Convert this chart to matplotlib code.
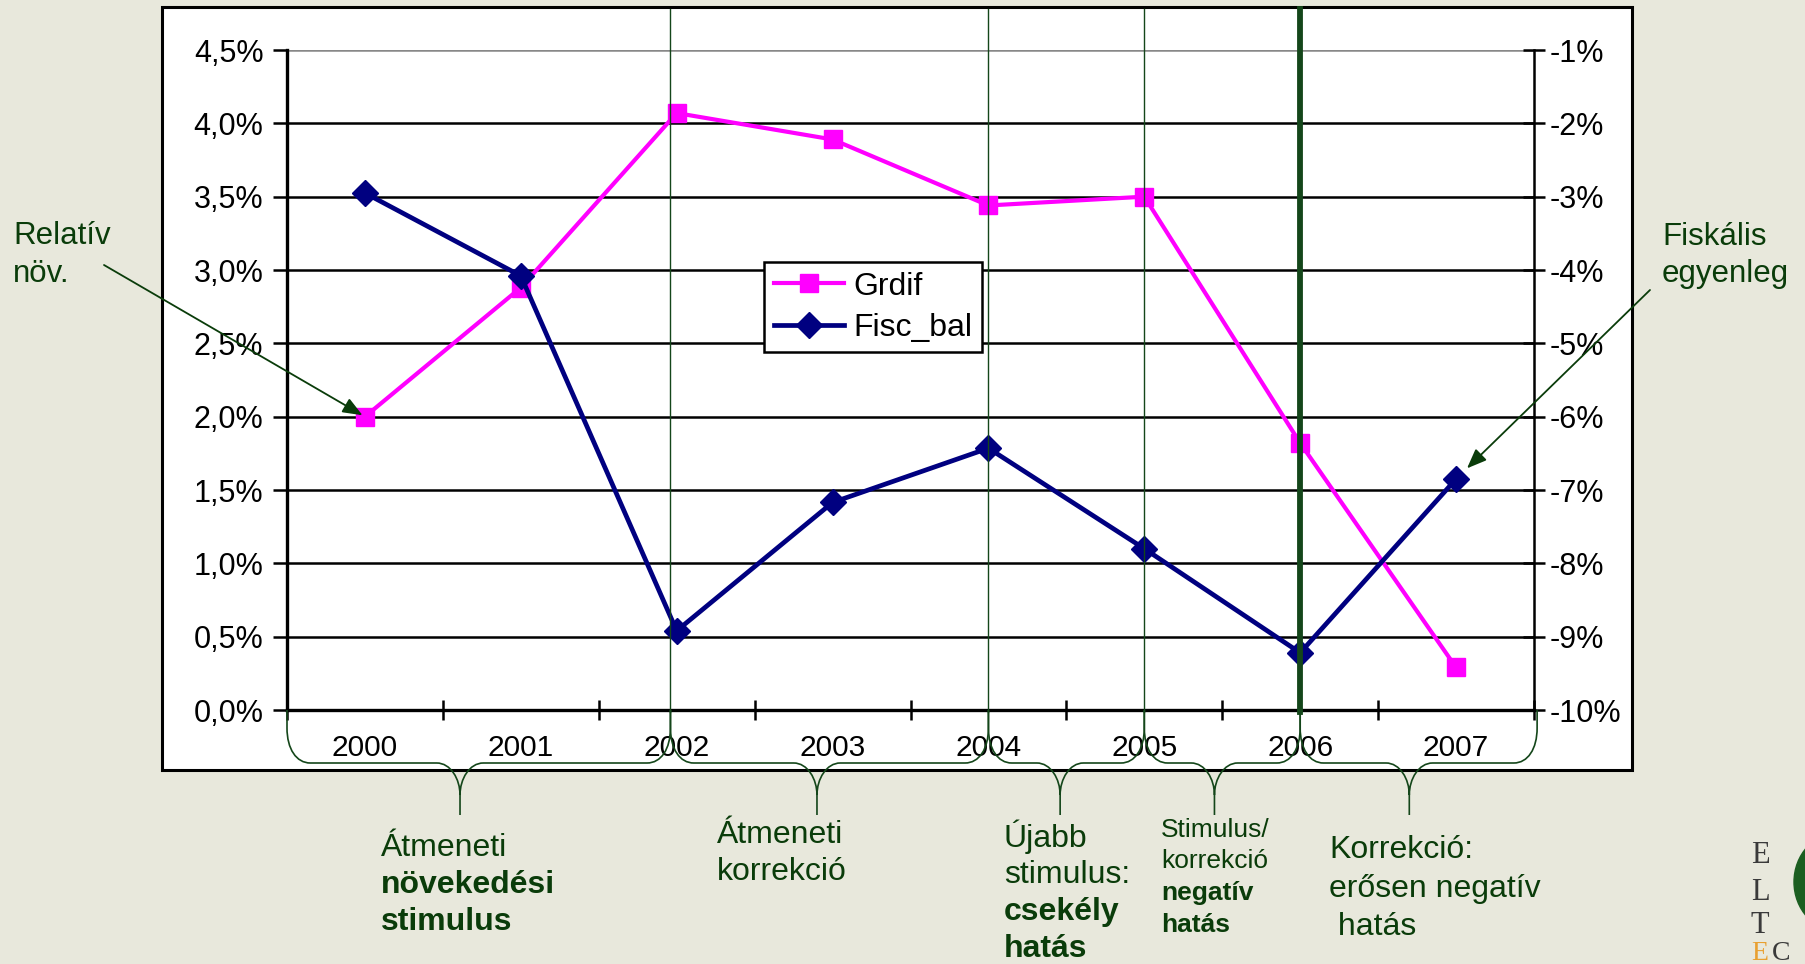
import matplotlib
matplotlib.use('Agg')
import matplotlib.pyplot as plt
import matplotlib.transforms as mtransforms
from matplotlib.path import Path
from matplotlib.patches import PathPatch, Rectangle, Ellipse
from matplotlib.lines import Line2D

W, H = 1806, 964
BG = '#e8e8dc'
GREEN = '#0a3c0a'

years = ['2000', '2001', '2002', '2003', '2004', '2005', '2006', '2007']
grdif = [2.00, 2.88, 4.07, 3.89, 3.44, 3.50, 1.82, 0.29]
fisc_bal = [-2.95, -4.08, -8.92, -7.17, -6.43, -7.80, -9.22, -6.85]
left_ticks = [0.0, 0.5, 1.0, 1.5, 2.0, 2.5, 3.0, 3.5, 4.0, 4.5]
right_ticks = [-10, -9, -8, -7, -6, -5, -4, -3, -2, -1]

# phase separators (category position) and the braces under the axis
phase_lines = [1.96, 4.0, 5.0, 6.0]
phase_lw = [1.0, 1.0, 1.0, 4.2]
braces = [(-0.5, 1.96, 0.61), (1.96, 4.0, 2.90), (4.0, 5.0, 4.46),
          (5.0, 6.0, 5.45), (6.0, 7.52, 6.70)]

plt.rcParams['font.family'] = ['Liberation Sans', 'DejaVu Sans']


def fx(px):
    return px / W


def fy(py):
    return 1 - py / H


fig = plt.figure(figsize=(W / 100, H / 100), dpi=100, facecolor=BG)

# white chart frame
fig.add_artist(Rectangle((fx(162), fy(770)), fx(1632 - 162), (770 - 7) / H,
                         transform=fig.transFigure, facecolor='white',
                         edgecolor='black', lw=2.2, zorder=-1))

ax = fig.add_axes([fx(287), fy(710), fx(1534 - 287), (710 - 50) / H])
ax.set_facecolor('none')
ax2 = ax.twinx()

x = list(range(len(years)))
ax.plot(x, grdif, color='#ff00ff', lw=3.0, marker='s', ms=12.5,
        label='Grdif', zorder=3)
ax2.plot(x, fisc_bal, color='#000080', lw=3.4, marker='D', ms=13,
         label='Fisc_bal', zorder=3)

ax.set_xlim(-0.5, 7.5)
ax.set_ylim(0, 4.5)
ax2.set_ylim(-10, -1)

ax.set_yticks(left_ticks)
ax.set_yticklabels([('%.1f%%' % v).replace('.', ',') for v in left_ticks])
ax2.set_yticks(right_ticks)
ax2.set_yticklabels(['%d%%' % v for v in right_ticks])

ax.set_xticks([i - 0.5 for i in range(len(years) + 1)])
ax.set_xticklabels([])
ax.set_xticks(x, minor=True)
ax.set_xticklabels(years, minor=True)

ax.tick_params(axis='y', direction='out', length=10, width=1.8,
               labelsize=22, pad=7)
ax2.tick_params(axis='y', direction='inout', length=16, width=1.8,
                labelsize=22, pad=3)
ax.tick_params(axis='x', which='major', direction='inout', length=15, width=1.8)
ax.tick_params(axis='x', which='minor', length=0, labelsize=21.5, pad=17)

ax.yaxis.grid(True, color='black', lw=1.8)
ax.get_ygridlines()[-1].set_color('#888888')

for a in (ax, ax2):
    a.spines['top'].set_visible(False)
ax.spines['right'].set_visible(False)
ax2.spines['left'].set_visible(False)
ax2.spines['bottom'].set_visible(False)
ax.spines['left'].set_linewidth(2.4)
ax.spines['bottom'].set_linewidth(2.4)
ax2.spines['right'].set_linewidth(1.8)

handles = ax.get_lines() + ax2.get_lines()
leg = ax2.legend(handles, [h.get_label() for h in handles],
                 loc='upper left', bbox_to_anchor=(fx(764), fy(262)),
                 bbox_transform=fig.transFigure, borderaxespad=0,
                 fontsize=23, fancybox=False, framealpha=1,
                 edgecolor='black', handlelength=2.2, handletextpad=0.3,
                 labelspacing=0.35, borderpad=0.3)
leg.get_frame().set_linewidth(1.8)

blend = mtransforms.blended_transform_factory(ax.transData, fig.transFigure)

for xp, lw in zip(phase_lines, phase_lw):
    fig.add_artist(Line2D([xp, xp], [fy(9), fy(712)], transform=blend,
                          color='#14461a', lw=lw, zorder=10))


def brace_path(x0, x1, xc):
    r = 0.15
    ya, yk, yh, yc, yt = fy(710), fy(728), fy(763), fy(795), fy(815)
    verts = [(x0, ya), (x0, yk),
             (x0, yk + 0.6 * (yh - yk)), (x0 + 0.4 * r, yh), (x0 + r, yh),
             (xc - r, yh),
             (xc - 0.4 * r, yh), (xc, yh + 0.5 * (yc - yh)), (xc, yc),
             (xc, yt),
             (xc, yc),
             (xc, yh + 0.5 * (yc - yh)), (xc + 0.4 * r, yh), (xc + r, yh),
             (x1 - r, yh),
             (x1 - 0.4 * r, yh), (x1, yk + 0.6 * (yh - yk)), (x1, yk),
             (x1, ya)]
    codes = [Path.MOVETO, Path.LINETO,
             Path.CURVE4, Path.CURVE4, Path.CURVE4,
             Path.LINETO,
             Path.CURVE4, Path.CURVE4, Path.CURVE4,
             Path.LINETO,
             Path.MOVETO,
             Path.CURVE4, Path.CURVE4, Path.CURVE4,
             Path.LINETO,
             Path.CURVE4, Path.CURVE4, Path.CURVE4,
             Path.LINETO]
    return Path(verts, codes)


for x0, x1, xc in braces:
    fig.add_artist(PathPatch(brace_path(x0, x1, xc), transform=blend,
                             facecolor='none', edgecolor='#14461a',
                             lw=1.2, zorder=10))


def txt(px, py, s, size=23, bold=False, color=GREEN):
    fig.text(fx(px), fy(py), s, fontsize=size, color=color,
             fontweight='bold' if bold else 'normal',
             ha='left', va='baseline')


txt(381, 856, 'Átmeneti')
txt(381, 893, 'növekedési', bold=True)
txt(381, 930, 'stimulus', bold=True)

txt(717, 843, 'Átmeneti')
txt(717, 880, 'korrekció')

txt(1004, 847, 'Újabb')
txt(1004, 883, 'stimulus:')
txt(1004, 920, 'csekély', bold=True)
txt(1004, 957, 'hatás', bold=True)

txt(1161, 837, 'Stimulus/', size=19)
txt(1161, 868, 'korrekció', size=19)
txt(1161, 900, 'negatív', size=19, bold=True)
txt(1161, 932, 'hatás', size=19, bold=True)

txt(1329, 858, 'Korrekció:')
txt(1329, 897, 'erősen negatív')
txt(1329, 935, ' hatás')

txt(13, 244, 'Relatív', size=22.5)
txt(13, 282, 'növ.', size=22.5)
txt(1662, 245, 'Fiskális', size=22.5)
txt(1662, 282, 'egyenleg', size=22.5)

arrow = dict(arrowstyle='-|>,head_length=0.4,head_width=0.16',
             mutation_scale=30, color=GREEN, lw=1.3, shrinkA=0)
ax2.annotate('', xy=(0, grdif[0]), xycoords=ax.transData,
             xytext=(104, H - 265), textcoords='figure pixels',
             arrowprops=dict(arrow, shrinkB=2), annotation_clip=False,
             zorder=12)
ax2.annotate('', xy=(7, fisc_bal[7]), xycoords='data',
             xytext=(1650, H - 290), textcoords='figure pixels',
             arrowprops=dict(arrow, shrinkB=11), annotation_clip=False,
             zorder=12)

# logo in the corner
for letter, py in (('E', 863), ('L', 900), ('T', 933)):
    fig.text(fx(1751), fy(py), letter, fontsize=22, color='#3a3a3a',
             family='Liberation Serif', va='baseline')
fig.text(fx(1751), fy(960), 'E', fontsize=20, color='#e8a030',
         family='Liberation Serif', va='baseline')
fig.text(fx(1772), fy(960), 'C', fontsize=20, color='#3a3a3a',
         family='Liberation Serif', va='baseline')
fig.add_artist(Ellipse((fx(1840), fy(882)), fx(92), 100 / H,
                       transform=fig.transFigure, color='#1b5e20', zorder=5))
fig.add_artist(Ellipse((fx(1822), fy(905)), fx(26), 34 / H,
                       transform=fig.transFigure, color=BG, zorder=6))

fig.savefig('out.png', dpi=100, facecolor=BG)
